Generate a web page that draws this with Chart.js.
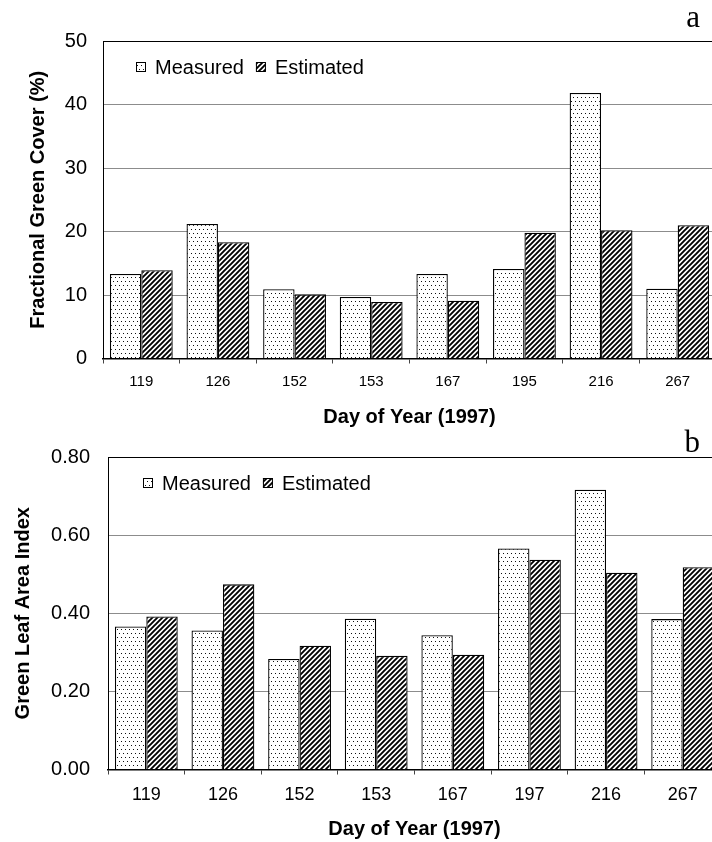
<!DOCTYPE html>
<html lang="en">
<head>
<meta charset="UTF-8">
<title>Fractional Green Cover and Green Leaf Area Index</title>
<script src="https://cdn.jsdelivr.net/npm/chart.js"></script>
<style>
  body { margin: 0; background: #fff; overflow: hidden; }
  #wrap { position: relative; width: 712px; height: 842px; overflow: hidden; }
  #wrap canvas { position: absolute; left: 0; }
  #chartA { top: 0; }
  #chartB { top: 420px; }
</style>
</head>
<body>
<div id="wrap">
  <canvas id="chartA" width="730" height="440"></canvas>
  <canvas id="chartB" width="730" height="422"></canvas>
</div>
<script>
// panel a - fractional green cover (%)
const daysA = ['119', '126', '152', '153', '167', '195', '216', '267'];
const coverMeasured = [13.3, 21.2, 10.9, 9.7, 13.3, 14.1, 41.8, 11.0];
const coverEstimated = [13.9, 18.3, 10.1, 8.9, 9.1, 19.8, 20.2, 21.0];

// panel b - green leaf area index
const daysB = ['119', '126', '152', '153', '167', '197', '216', '267'];
const laiMeasured = [0.366, 0.356, 0.283, 0.386, 0.344, 0.566, 0.716, 0.385];
const laiEstimated = [0.392, 0.474, 0.317, 0.291, 0.294, 0.537, 0.504, 0.518];

const seriesNames = ['Measured', 'Estimated'];

Chart.defaults.font.family = "'Liberation Sans', Arial, sans-serif";
Chart.defaults.color = '#000';

function dotPattern() {
  const c = document.createElement('canvas');
  c.width = 4; c.height = 8;
  const g = c.getContext('2d');
  g.fillStyle = '#fff';
  g.fillRect(0, 0, 4, 8);
  g.fillStyle = '#111';
  g.fillRect(1, 1, 1, 1);
  g.fillRect(3, 5, 1, 1);
  return g.createPattern(c, 'repeat');
}

function hatchPattern() {
  const s = 5;
  const c = document.createElement('canvas');
  c.width = s; c.height = s;
  const g = c.getContext('2d');
  g.fillStyle = '#fff';
  g.fillRect(0, 0, s, s);
  g.strokeStyle = '#000';
  g.lineWidth = 1.9;
  g.beginPath();
  g.moveTo(-1, 1); g.lineTo(1, -1);
  g.moveTo(0, s); g.lineTo(s, 0);
  g.moveTo(s - 1, s + 1); g.lineTo(s + 1, s - 1);
  g.stroke();
  return g.createPattern(c, 'repeat');
}

const dots = dotPattern();
const hatch = hatchPattern();

// legend drawn inside the plot area, plus the panel letter
const panelExtras = {
  id: 'panelExtras',
  afterDraw(chart, args, o) {
    const ctx = chart.ctx;
    const area = chart.chartArea;
    ctx.save();
    ctx.font = "20px 'Liberation Sans', Arial, sans-serif";
    ctx.textBaseline = 'middle';
    let x = area.left + o.legendX;
    const y = area.top + o.legendY;
    chart.data.datasets.forEach(ds => {
      ctx.fillStyle = ds.backgroundColor;
      ctx.fillRect(x, y - 5, 10, 10);
      ctx.strokeStyle = '#000';
      ctx.lineWidth = 1;
      ctx.strokeRect(x + 0.5, y - 4.5, 9, 9);
      x += 19;
      ctx.fillStyle = '#000';
      ctx.fillText(ds.label, x, y + 1);
      x += ctx.measureText(ds.label).width + 12;
    });
    ctx.font = "31px 'Liberation Serif', 'Times New Roman', serif";
    ctx.textAlign = 'right';
    ctx.textBaseline = 'alphabetic';
    ctx.fillText(o.letter, 700, o.letterY);
    ctx.restore();
  }
};

function makeChart(id, cfg) {
  return new Chart(document.getElementById(id), {
    type: 'bar',
    data: {
      labels: cfg.labels,
      datasets: [
        { label: seriesNames[0], data: cfg.measured, backgroundColor: dots, borderColor: '#000', borderWidth: 1.3 },
        { label: seriesNames[1], data: cfg.estimated, backgroundColor: hatch, borderColor: '#000', borderWidth: 1.3 }
      ]
    },
    options: {
      responsive: false,
      animation: false,
      devicePixelRatio: 1,
      categoryPercentage: 0.82,
      barPercentage: 1.0,
      layout: { padding: { top: cfg.top, right: cfg.padRight, left: 0, bottom: 0 } },
      plugins: {
        legend: { display: false },
        tooltip: { enabled: false },
        panelExtras: { letter: cfg.letter, letterY: cfg.letterY, legendX: cfg.legendX, legendY: 26 }
      },
      scales: {
        x: {
          ticks: { padding: cfg.xTickPad, font: { size: cfg.xTickSize }, maxRotation: 0, autoSkip: false },
          grid: { drawOnChartArea: false, drawTicks: true, tickLength: 5, color: '#444', offset: true },
          border: { color: '#000', width: 1.5 },
          title: {
            display: true, text: 'Day of Year (1997)',
            font: { size: 20, weight: 'bold' },
            padding: { top: 0, bottom: cfg.xTitlePad }
          },
          afterFit: s => { s.height = cfg.xHeight; }
        },
        y: {
          min: 0, max: cfg.max,
          ticks: { stepSize: cfg.step, padding: cfg.yTickPad, font: { size: 20 }, callback: cfg.fmt },
          grid: {
            drawTicks: false,
            lineWidth: 1,
            color: c => (c.tick && Math.abs(c.tick.value - cfg.max) < 1e-9) ? '#000' : '#8c8c8c'
          },
          border: { color: '#000', width: 1 },
          title: {
            display: true, text: cfg.yTitle,
            font: { size: 20, weight: 'bold' },
            padding: { top: cfg.yTitlePad, bottom: 0 }
          },
          afterFit: s => { s.width = cfg.left; }
        }
      }
    },
    plugins: [panelExtras]
  });
}

makeChart('chartA', {
  labels: daysA, measured: coverMeasured, estimated: coverEstimated,
  max: 50, step: 10, fmt: v => v,
  yTitle: 'Fractional Green Cover (%)',
  top: 41, left: 103, padRight: 14, xHeight: 81.5,
  xTickPad: 9, xTickSize: 15, xTitlePad: 11, yTickPad: 16, yTitlePad: 26,
  letter: 'a', letterY: 27, legendX: 33
});

makeChart('chartB', {
  labels: daysB, measured: laiMeasured, estimated: laiEstimated,
  max: 0.8, step: 0.2, fmt: v => Number(v).toFixed(2),
  yTitle: 'Green Leaf Area Index',
  top: 37, left: 108, padRight: 9, xHeight: 72.5,
  xTickPad: 9.7, xTickSize: 18, xTitlePad: 1, yTickPad: 18, yTitlePad: 11,
  letter: 'b', letterY: 32, legendX: 35
});
</script>
</body>
</html>
